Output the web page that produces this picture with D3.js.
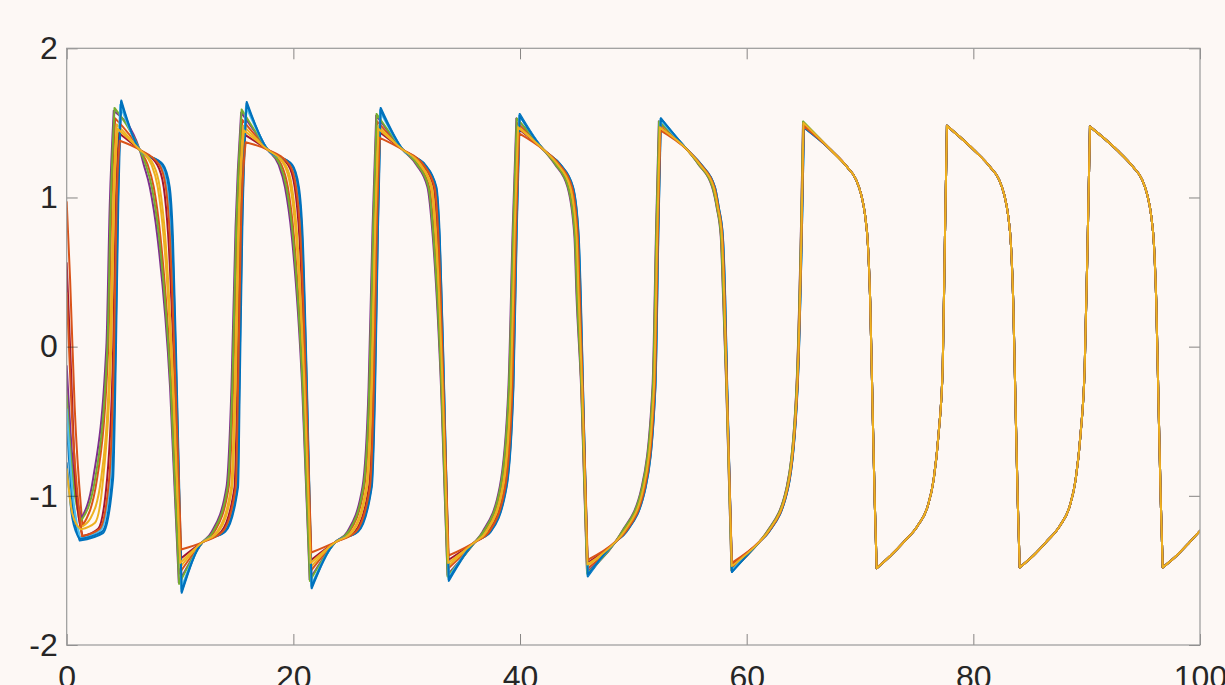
<!DOCTYPE html>
<html>
<head>
<meta charset="utf-8">
<script src="https://cdn.jsdelivr.net/npm/d3@7"></script>
<style>
  html, body { margin: 0; padding: 0; background: #fdf8f5; }
  svg { display: block; }
</style>
</head>
<body>
<svg id="chart" width="1225" height="685"></svg>
<script>
// ---- data (time, value) ----
const xTicks = [0, 20, 40, 60, 80, 100];
const yTicks = [-2, -1, 0, 1, 2];
const seriesColors = ["#0072BD","#D95319","#EDB120","#7E2F8E","#77AC30","#4DBEEE","#A2142F","#0072BD","#D95319","#EDB120"];

const osc1 = [[0,-0.52],[0.55,-1.08],[1.15,-1.30],[3.2,-1.25],[4.09,-0.89],[4.35,0],[4.55,0.95],[4.82,1.65],
[6.44,1.32],[8.5,1.22],[9.09,1.07],[9.37,0.74],[9.72,-0.27],[10.15,-1.65],
[12.0,-1.31],[14.0,-1.24],[15.12,-0.94],[15.27,-0.27],[15.5,0.8],[15.89,1.64],
[17.74,1.32],[19.89,1.22],[20.49,1.07],[20.82,0.74],[21.2,-0.27],[21.62,-1.62],
[23.72,-1.31],[25.72,-1.24],[26.92,-0.94],[27.22,-0.27],[27.47,0.8],[27.71,1.60],
[29.66,1.32],[31.62,1.22],[32.62,1.07],[32.92,0.74],[33.3,-0.27],[33.72,-1.57],
[36.02,-1.31],[37.42,-1.24],[38.82,-0.94],[39.42,-0.27],[39.72,0.8],[39.98,1.56],
[42.08,1.32],[43.58,1.22],[44.68,1.07],[45.18,0.74],[45.36,0.35],[45.56,-0.27],[45.98,-1.54],
[48.4,-1.31],[49.4,-1.24],[51.1,-0.94],[51.95,-0.27],[52.22,0.8],[52.43,1.53],
[54.75,1.32],[56.0,1.22],[57.2,1.07],[57.55,0.93],[57.9,0.74],[58.1,0.35],[58.28,-0.27],[58.7,-1.51],
[61.1,-1.31],[61.98,-1.24],[63.68,-0.94],[64.5,-0.27],[64.88,0.8],[65.05,1.47]];

const osc2 = [[0,0.97],[0.3,0.45],[0.7,-0.4],[1.4,-1.20],[2.67,-0.89],[3.67,0],[3.95,0.95],[4.28,1.53],
[6.44,1.32],[7.14,1.22],[7.68,1.07],[8.27,0.74],[9.24,-0.27],[9.94,-1.52],
[12.0,-1.31],[13.04,-1.24],[14.30,-0.94],[14.69,-0.27],[15.02,0.8],[15.49,1.52],
[17.74,1.32],[18.94,1.22],[19.51,1.07],[20.05,0.74],[20.86,-0.27],[21.48,-1.51],
[23.72,-1.31],[24.95,-1.24],[26.26,-0.94],[26.76,-0.27],[27.09,0.8],[27.39,1.51],
[29.66,1.32],[31.0,1.22],[31.99,1.07],[32.42,0.74],[33.08,-0.27],[33.62,-1.49],
[36.02,-1.31],[36.84,-1.24],[38.33,-0.94],[39.07,-0.27],[39.43,0.8],[39.74,1.50],
[42.08,1.32],[43.2,1.22],[44.29,1.07],[44.88,0.74],[45.06,0.35],[45.42,-0.27],[45.92,-1.49],
[48.4,-1.31],[49.06,-1.24],[50.81,-0.94],[51.74,-0.27],[52.05,0.8],[52.29,1.49],
[54.75,1.32],[55.81,1.22],[57.0,1.07],[57.4,0.93],[57.75,0.74],[57.95,0.35],[58.22,-0.27],[58.67,-1.48],
[61.1,-1.31],[61.84,-1.24],[63.56,-0.94],[64.41,-0.27],[64.81,0.8],[64.99,1.495]];

const osc3 = [[0,-0.22],[0.55,-0.85],[1.24,-1.21],[2.1,-1.15],[3.03,-0.89],[3.84,0],[4.10,0.95],[4.42,1.49],
[6.44,1.32],[7.48,1.22],[8.03,1.07],[8.55,0.74],[9.36,-0.27],[9.99,-1.48],
[12.0,-1.31],[13.28,-1.24],[14.51,-0.94],[14.83,-0.27],[15.14,0.8],[15.59,1.48],
[17.74,1.32],[19.18,1.22],[19.75,1.07],[20.24,0.74],[20.95,-0.27],[21.51,-1.48],
[23.72,-1.31],[25.14,-1.24],[26.43,-0.94],[26.87,-0.27],[27.18,0.8],[27.47,1.48],
[29.66,1.32],[31.16,1.22],[32.15,1.07],[32.55,0.74],[33.14,-0.27],[33.65,-1.47],
[36.02,-1.31],[36.99,-1.24],[38.45,-0.94],[39.16,-0.27],[39.5,0.8],[39.8,1.48],
[42.08,1.32],[43.29,1.22],[44.39,1.07],[44.95,0.74],[45.13,0.35],[45.46,-0.27],[45.94,-1.47],
[48.4,-1.31],[49.15,-1.24],[50.88,-0.94],[51.79,-0.27],[52.09,0.8],[52.32,1.48],
[54.75,1.32],[55.86,1.22],[57.05,1.07],[57.44,0.93],[57.79,0.74],[57.99,0.35],[58.23,-0.27],[58.68,-1.47],
[61.1,-1.31],[61.87,-1.24],[63.59,-0.94],[64.43,-0.27],[64.83,0.8],[65.0,1.50]];

const osc4 = [[0,-0.13],[0.5,-0.75],[1.30,-1.15],[2.32,-0.89],[3.50,0],[3.80,0.95],[4.15,1.58],
[6.44,1.32],[6.8,1.22],[7.33,1.07],[8.0,0.74],[9.12,-0.27],[9.89,-1.58],
[12.0,-1.31],[12.8,-1.24],[14.1,-0.94],[14.54,-0.27],[14.9,0.8],[15.39,1.57],
[17.74,1.32],[18.7,1.22],[19.26,1.07],[19.86,0.74],[20.78,-0.27],[21.44,-1.56],
[23.72,-1.31],[24.76,-1.24],[26.1,-0.94],[26.64,-0.27],[26.99,0.8],[27.31,1.55],
[29.66,1.32],[30.85,1.22],[31.83,1.07],[32.3,0.74],[33.03,-0.27],[33.6,-1.53],
[36.02,-1.31],[36.7,-1.24],[38.21,-0.94],[38.98,-0.27],[39.36,0.8],[39.68,1.53],
[42.08,1.32],[43.1,1.22],[44.19,1.07],[44.8,0.74],[44.98,0.35],[45.39,-0.27],[45.91,-1.51],
[48.4,-1.31],[48.98,-1.24],[50.74,-0.94],[51.69,-0.27],[52.01,0.8],[52.25,1.51],
[54.75,1.32],[55.76,1.22],[56.95,1.07],[57.36,0.93],[57.71,0.74],[57.91,0.35],[58.2,-0.27],[58.66,-1.50],
[61.1,-1.31],[61.8,-1.24],[63.53,-0.94],[64.39,-0.27],[64.79,0.8],[64.97,1.505]];

const osc5 = [[0,-0.33],[0.5,-0.85],[1.29,-1.165],[2.50,-0.89],[3.59,0],[3.88,0.95],[4.22,1.60],
[6.44,1.32],[6.97,1.22],[7.51,1.07],[8.14,0.74],[9.18,-0.27],[9.92,-1.59],
[12.0,-1.31],[12.92,-1.24],[14.2,-0.94],[14.61,-0.27],[14.96,0.8],[15.44,1.59],
[17.74,1.32],[18.82,1.22],[19.38,1.07],[19.96,0.74],[20.82,-0.27],[21.46,-1.57],
[23.72,-1.31],[24.86,-1.24],[26.18,-0.94],[26.7,-0.27],[27.04,0.8],[27.35,1.56],
[29.66,1.32],[30.93,1.22],[31.91,1.07],[32.36,0.74],[33.06,-0.27],[33.61,-1.54],
[36.02,-1.31],[36.77,-1.24],[38.27,-0.94],[39.02,-0.27],[39.4,0.8],[39.71,1.53],
[42.08,1.32],[43.15,1.22],[44.24,1.07],[44.84,0.74],[45.02,0.35],[45.41,-0.27],[45.92,-1.52],
[48.4,-1.31],[49.02,-1.24],[50.78,-0.94],[51.72,-0.27],[52.03,0.8],[52.27,1.51],
[54.75,1.32],[55.78,1.22],[56.98,1.07],[57.38,0.93],[57.73,0.74],[57.93,0.35],[58.21,-0.27],[58.66,-1.50],
[61.1,-1.31],[61.82,-1.24],[63.55,-0.94],[64.4,-0.27],[64.8,0.8],[64.98,1.51]];

const osc6 = [[0,-0.42],[0.55,-1.0],[1.17,-1.28],[2.99,-1.23],[3.82,-0.89],[4.22,0],[4.44,0.95],[4.72,1.62],
[6.44,1.32],[8.25,1.22],[8.83,1.07],[9.16,0.74],[9.63,-0.27],[10.11,-1.62],
[12.0,-1.31],[13.82,-1.24],[14.97,-0.94],[15.16,-0.27],[15.41,0.8],[15.82,1.61],
[17.74,1.32],[19.71,1.22],[20.31,1.07],[20.68,0.74],[21.14,-0.27],[21.59,-1.60],
[23.72,-1.31],[25.58,-1.24],[26.8,-0.94],[27.13,-0.27],[27.4,0.8],[27.65,1.58],
[29.66,1.32],[31.5,1.22],[32.5,1.07],[32.83,0.74],[33.26,-0.27],[33.7,-1.55],
[36.02,-1.31],[37.31,-1.24],[38.73,-0.94],[39.35,-0.27],[39.67,0.8],[39.94,1.55],
[42.08,1.32],[43.51,1.22],[44.61,1.07],[45.12,0.74],[45.3,0.35],[45.53,-0.27],[45.97,-1.53],
[48.4,-1.31],[49.34,-1.24],[51.05,-0.94],[51.91,-0.27],[52.19,0.8],[52.4,1.52],
[54.75,1.32],[55.96,1.22],[57.16,1.07],[57.52,0.93],[57.87,0.74],[58.07,0.35],[58.27,-0.27],[58.69,-1.50],
[61.1,-1.31],[61.95,-1.24],[63.66,-0.94],[64.48,-0.27],[64.87,0.8],[65.04,1.475]];

const osc7 = [[0,0.56],[0.35,-0.1],[0.8,-0.95],[1.4,-1.27],[2.78,-1.22],[3.56,-0.89],[4.1,0],[4.33,0.95],[4.62,1.43],
[6.44,1.32],[7.99,1.22],[8.56,1.07],[8.96,0.74],[9.54,-0.27],[10.07,-1.42],
[12.0,-1.31],[13.64,-1.24],[14.81,-0.94],[15.05,-0.27],[15.32,0.8],[15.74,1.42],
[17.74,1.32],[19.53,1.22],[20.12,1.07],[20.53,0.74],[21.07,-0.27],[21.57,-1.43],
[23.72,-1.31],[25.43,-1.24],[26.67,-0.94],[27.05,-0.27],[27.33,0.8],[27.59,1.44],
[29.66,1.32],[31.39,1.22],[32.38,1.07],[32.73,0.74],[33.22,-0.27],[33.68,-1.43],
[36.02,-1.31],[37.2,-1.24],[38.64,-0.94],[39.29,-0.27],[39.61,0.8],[39.89,1.46],
[42.08,1.32],[43.44,1.22],[44.53,1.07],[45.07,0.74],[45.25,0.35],[45.51,-0.27],[45.96,-1.45],
[48.4,-1.31],[49.27,-1.24],[50.99,-0.94],[51.87,-0.27],[52.16,0.8],[52.38,1.47],
[54.75,1.32],[55.93,1.22],[57.13,1.07],[57.49,0.93],[57.84,0.74],[58.04,0.35],[58.26,-0.27],[58.69,-1.46],
[61.1,-1.31],[61.93,-1.24],[63.64,-0.94],[64.47,-0.27],[64.85,0.8],[65.03,1.485]];

const osc8 = [[0,-0.78],[0.5,-1.15],[1.16,-1.29],[3.13,-1.24],[4.0,-0.89],[4.31,0],[4.51,0.95],[4.79,1.64],
[6.44,1.32],[8.42,1.22],[9.0,1.07],[9.3,0.74],[9.69,-0.27],[10.14,-1.64],
[12.0,-1.31],[13.94,-1.24],[15.07,-0.94],[15.23,-0.27],[15.47,0.8],[15.87,1.63],
[17.74,1.32],[19.83,1.22],[20.43,1.07],[20.77,0.74],[21.18,-0.27],[21.61,-1.61],
[23.72,-1.31],[25.67,-1.24],[26.88,-0.94],[27.19,-0.27],[27.45,0.8],[27.69,1.59],
[29.66,1.32],[31.58,1.22],[32.58,1.07],[32.89,0.74],[33.29,-0.27],[33.71,-1.56],
[36.02,-1.31],[37.38,-1.24],[38.79,-0.94],[39.4,-0.27],[39.7,0.8],[39.96,1.55],
[42.08,1.32],[43.56,1.22],[44.66,1.07],[45.16,0.74],[45.34,0.35],[45.55,-0.27],[45.98,-1.53],
[48.4,-1.31],[49.38,-1.24],[51.08,-0.94],[51.94,-0.27],[52.21,0.8],[52.42,1.53],
[54.75,1.32],[55.99,1.22],[57.19,1.07],[57.54,0.93],[57.89,0.74],[58.09,0.35],[58.28,-0.27],[58.7,-1.51],
[61.1,-1.31],[61.97,-1.24],[63.67,-0.94],[64.49,-0.27],[64.88,0.8],[65.05,1.47]];

const osc9 = [[0,0.36],[0.45,-0.45],[1.35,-1.27],[2.92,-1.22],[3.74,-0.89],[4.18,0],[4.4,0.95],[4.69,1.38],
[6.44,1.32],[8.16,1.22],[8.74,1.07],[9.1,0.74],[9.6,-0.27],[10.1,-1.36],
[12.0,-1.31],[13.76,-1.24],[14.92,-0.94],[15.12,-0.27],[15.38,0.8],[15.79,1.37],
[17.74,1.32],[19.65,1.22],[20.24,1.07],[20.63,0.74],[21.12,-0.27],[21.58,-1.38],
[23.72,-1.31],[25.53,-1.24],[26.76,-0.94],[27.1,-0.27],[27.37,0.8],[27.63,1.40],
[29.66,1.32],[31.47,1.22],[32.46,1.07],[32.8,0.74],[33.25,-0.27],[33.7,-1.40],
[36.02,-1.31],[37.28,-1.24],[38.7,-0.94],[39.33,-0.27],[39.65,0.8],[39.92,1.43],
[42.08,1.32],[43.48,1.22],[44.58,1.07],[45.1,0.74],[45.28,0.35],[45.53,-0.27],[45.97,-1.43],
[48.4,-1.31],[49.32,-1.24],[51.03,-0.94],[51.9,-0.27],[52.18,0.8],[52.39,1.45],
[54.75,1.32],[55.95,1.22],[57.15,1.07],[57.51,0.93],[57.86,0.74],[58.06,0.35],[58.26,-0.27],[58.69,-1.45],
[61.1,-1.31],[61.94,-1.24],[63.65,-0.94],[64.48,-0.27],[64.86,0.8],[65.03,1.48]];

const osc10 = [[0,-0.82],[0.5,-1.12],[1.23,-1.225],[2.5,-1.18],[3.21,-0.89],[3.93,0],[4.18,0.95],[4.49,1.46],
[6.44,1.32],[7.65,1.22],[8.21,1.07],[8.69,0.74],[9.42,-0.27],[10.02,-1.45],
[12.0,-1.31],[13.4,-1.24],[14.61,-0.94],[14.91,-0.27],[15.2,0.8],[15.64,1.45],
[17.74,1.32],[19.3,1.22],[19.88,1.07],[20.34,0.74],[20.99,-0.27],[21.53,-1.45],
[23.72,-1.31],[25.24,-1.24],[26.51,-0.94],[26.93,-0.27],[27.23,0.8],[27.51,1.46],
[29.66,1.32],[31.24,1.22],[32.23,1.07],[32.61,0.74],[33.17,-0.27],[33.66,-1.45],
[36.02,-1.31],[37.06,-1.24],[38.52,-0.94],[39.2,-0.27],[39.54,0.8],[39.83,1.47],
[42.08,1.32],[43.34,1.22],[44.44,1.07],[44.99,0.74],[45.17,0.35],[45.48,-0.27],[45.95,-1.46],
[48.4,-1.31],[49.19,-1.24],[50.92,-0.94],[51.82,-0.27],[52.12,0.8],[52.34,1.47],
[54.75,1.32],[55.88,1.22],[57.08,1.07],[57.46,0.93],[57.81,0.74],[58.01,0.35],[58.24,-0.27],[58.68,-1.47],
[61.1,-1.31],[61.89,-1.24],[63.61,-0.94],[64.45,-0.27],[64.84,0.8],[65.01,1.50]];

// after ~t=66 all oscillators are synchronised: one common trace
const syncTail = [[67.41,1.32],[68.91,1.20],[69.65,1.12],[70.1,1.02],[70.45,0.88],[70.7,0.68],[70.9,0.30],[71.1,-0.38],[71.3,-1.04],[71.47,-1.485],
[72.71,-1.40],[73.85,-1.31],[75.09,-1.20],[75.97,-1.07],[76.5,-0.89],[76.94,-0.58],[77.3,-0.13],[77.5,0.76],[77.67,1.48],
[80.03,1.32],[81.53,1.20],[82.27,1.12],[82.72,1.02],[83.07,0.88],[83.32,0.68],[83.52,0.30],[83.72,-0.38],[83.92,-1.04],[84.09,-1.48],
[85.3,-1.40],[86.42,-1.31],[87.64,-1.20],[88.5,-1.07],[89.03,-0.89],[89.47,-0.58],[89.83,-0.13],[90.1,0.76],[90.29,1.475],
[92.65,1.32],[94.15,1.20],[94.89,1.12],[95.34,1.02],[95.69,0.88],[95.94,0.68],[96.14,0.30],[96.34,-0.38],[96.54,-1.04],[96.71,-1.48],
[97.95,-1.40],[99.09,-1.31],[100,-1.235]];

const oscillators = [osc1, osc2, osc3, osc4, osc5, osc6, osc7, osc8, osc9, osc10];

// ---- drawing ----
const svg = d3.select("#chart");
const plotL = 66.7, plotR = 1200, plotT = 48.3, plotB = 645;
const x = d3.scaleLinear().domain([0, 100]).range([plotL, plotR]);
const y = d3.scaleLinear().domain([-2, 2]).range([plotB, plotT]);

svg.append("rect").attr("width", 1225).attr("height", 685).attr("fill", "#fdf8f5");

svg.append("clipPath").attr("id", "clip")
  .append("rect").attr("x", plotL).attr("y", plotT - 2).attr("width", plotR - plotL).attr("height", plotB - plotT + 4);

const line = d3.line()
  .x(d => x(d[0]))
  .y(d => y(d[1]))
  .curve(d3.curveMonotoneX);

// keep the spikes sharp: the smooth curve restarts at every peak / trough
function runsBetweenExtrema(pts) {
  const runs = [];
  let cur = [pts[0]];
  for (let i = 1; i < pts.length; i++) {
    cur.push(pts[i]);
    if (i < pts.length - 1) {
      const a = pts[i - 1][1], b = pts[i][1], c = pts[i + 1][1];
      if ((b > a && b > c) || (b < a && b < c)) { runs.push(cur); cur = [pts[i]]; }
    }
  }
  runs.push(cur);
  return runs;
}

const g = svg.append("g").attr("clip-path", "url(#clip)");
oscillators.forEach((s, i) => {
  const d = runsBetweenExtrema(s.concat(syncTail)).map(r => line(r)).join("");
  g.append("path")
    .attr("d", d)
    .attr("fill", "none")
    .attr("stroke", seriesColors[i])
    .attr("stroke-width", 2)
    .attr("stroke-linejoin", "round")
    .attr("stroke-linecap", "round");
});

const fontFamily = "'Liberation Sans', Arial, Helvetica, sans-serif";
const tickLen = 11;
const fmt = d => String(d);

function styleAxis(sel) {
  sel.select(".domain").remove();
  sel.selectAll(".tick line").attr("stroke", "#262626").attr("stroke-opacity", 0.55).attr("stroke-width", 1);
  sel.selectAll(".tick text").attr("fill", "#262626")
    .style("font-family", fontFamily).style("font-size", "32px");
}

svg.append("g").attr("transform", `translate(0,${plotB})`)
  .call(d3.axisBottom(x).tickValues(xTicks).tickSize(-tickLen).tickPadding(20).tickFormat(fmt))
  .call(styleAxis);
svg.append("g").attr("transform", `translate(${plotL},0)`)
  .call(d3.axisLeft(y).tickValues(yTicks).tickSize(-tickLen).tickPadding(9).tickFormat(fmt))
  .call(styleAxis);
svg.append("g").attr("transform", `translate(0,${plotT})`)
  .call(d3.axisTop(x).tickValues(xTicks).tickSize(-tickLen).tickFormat(""))
  .call(styleAxis);
svg.append("g").attr("transform", `translate(${plotR},0)`)
  .call(d3.axisRight(y).tickValues(yTicks).tickSize(-tickLen).tickFormat(""))
  .call(styleAxis);

// box
svg.append("rect")
  .attr("x", plotL).attr("y", plotT)
  .attr("width", plotR - plotL).attr("height", plotB - plotT)
  .attr("fill", "none").attr("stroke", "#9a9a9a").attr("stroke-width", 1.2);
</script>
</body>
</html>
